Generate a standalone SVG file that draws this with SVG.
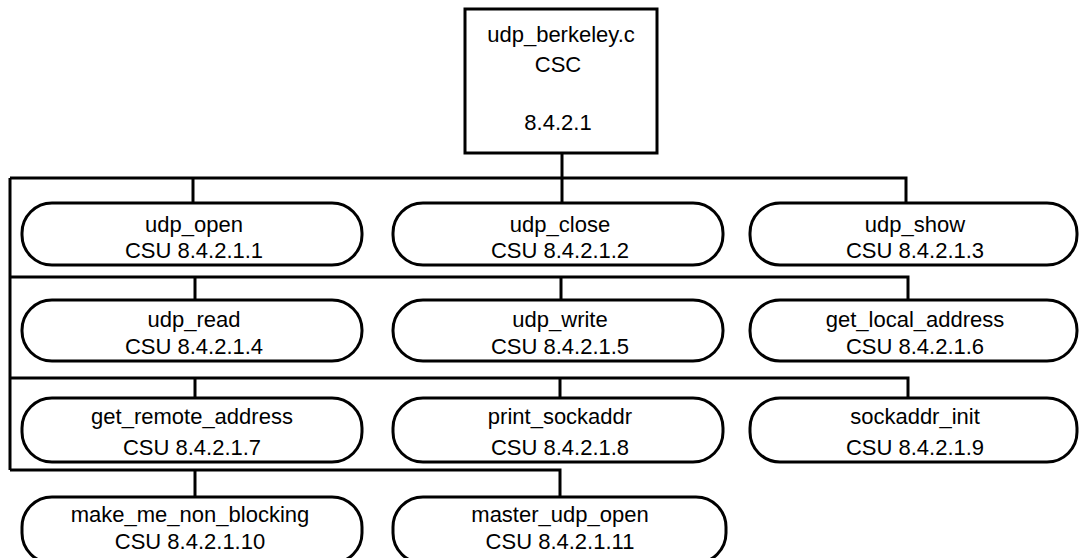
<svg xmlns="http://www.w3.org/2000/svg" width="1079" height="558" viewBox="0 0 1079 558">
<style>
.n{fill:#fff;stroke:#000;stroke-width:3}
.c{fill:none;stroke:#000;stroke-width:3}
text{font-family:"Liberation Sans",Arial,sans-serif;font-size:22px;fill:#000;text-anchor:middle}
</style>
<rect width="1079" height="558" fill="#fff"/>
<g id="connectors" class="c">
<path d="M562 153V178"/>
<path d="M10 178H906V203"/>
<path d="M193 178V203"/>
<path d="M562 178V203"/>
<path d="M10 178V470"/>
<path d="M10 277H908V300"/>
<path d="M195 277V300"/>
<path d="M561 277V300"/>
<path d="M10 378H908V398"/>
<path d="M195 378V398"/>
<path d="M560 378V398"/>
<path d="M10 470H560V497"/>
<path d="M195 470V497"/>
</g>
<g id="top">
<rect class="n" x="465" y="9" width="192" height="144"/>
<text x="561" y="42">udp_berkeley.c</text>
<text x="558" y="72">CSC</text>
<text x="558" y="130">8.4.2.1</text>
</g>
<g id="udp_open"><rect class="n" x="22" y="203" width="340" height="62" rx="30"/><text x="194" y="232">udp_open</text><text x="194" y="258">CSU 8.4.2.1.1</text></g>
<g id="udp_close"><rect class="n" x="393" y="203" width="330" height="62" rx="30"/><text x="560" y="232">udp_close</text><text x="560" y="258">CSU 8.4.2.1.2</text></g>
<g id="udp_show"><rect class="n" x="750" y="203" width="327" height="62" rx="30"/><text x="915" y="232">udp_show</text><text x="915" y="258">CSU 8.4.2.1.3</text></g>
<g id="udp_read"><rect class="n" x="22" y="300" width="340" height="61" rx="30"/><text x="194" y="327">udp_read</text><text x="194" y="354">CSU 8.4.2.1.4</text></g>
<g id="udp_write"><rect class="n" x="393" y="300" width="330" height="61" rx="30"/><text x="560" y="327">udp_write</text><text x="560" y="354">CSU 8.4.2.1.5</text></g>
<g id="get_local_address"><rect class="n" x="750" y="300" width="327" height="61" rx="30"/><text x="915" y="327">get_local_address</text><text x="915" y="354">CSU 8.4.2.1.6</text></g>
<g id="get_remote_address"><rect class="n" x="22" y="398" width="340" height="64" rx="30"/><text x="192" y="424">get_remote_address</text><text x="192" y="455">CSU 8.4.2.1.7</text></g>
<g id="print_sockaddr"><rect class="n" x="393" y="398" width="330" height="64" rx="30"/><text x="560" y="424">print_sockaddr</text><text x="560" y="455">CSU 8.4.2.1.8</text></g>
<g id="sockaddr_init"><rect class="n" x="750" y="398" width="327" height="64" rx="30"/><text x="915" y="424">sockaddr_init</text><text x="915" y="455">CSU 8.4.2.1.9</text></g>
<g id="make_me_non_blocking"><rect class="n" x="22" y="497" width="340" height="66" rx="30"/><text x="190" y="522">make_me_non_blocking</text><text x="190" y="549">CSU 8.4.2.1.10</text></g>
<g id="master_udp_open"><rect class="n" x="393" y="497" width="333" height="66" rx="30"/><text x="560" y="522">master_udp_open</text><text x="560" y="549">CSU 8.4.2.1.11</text></g>
</svg>
